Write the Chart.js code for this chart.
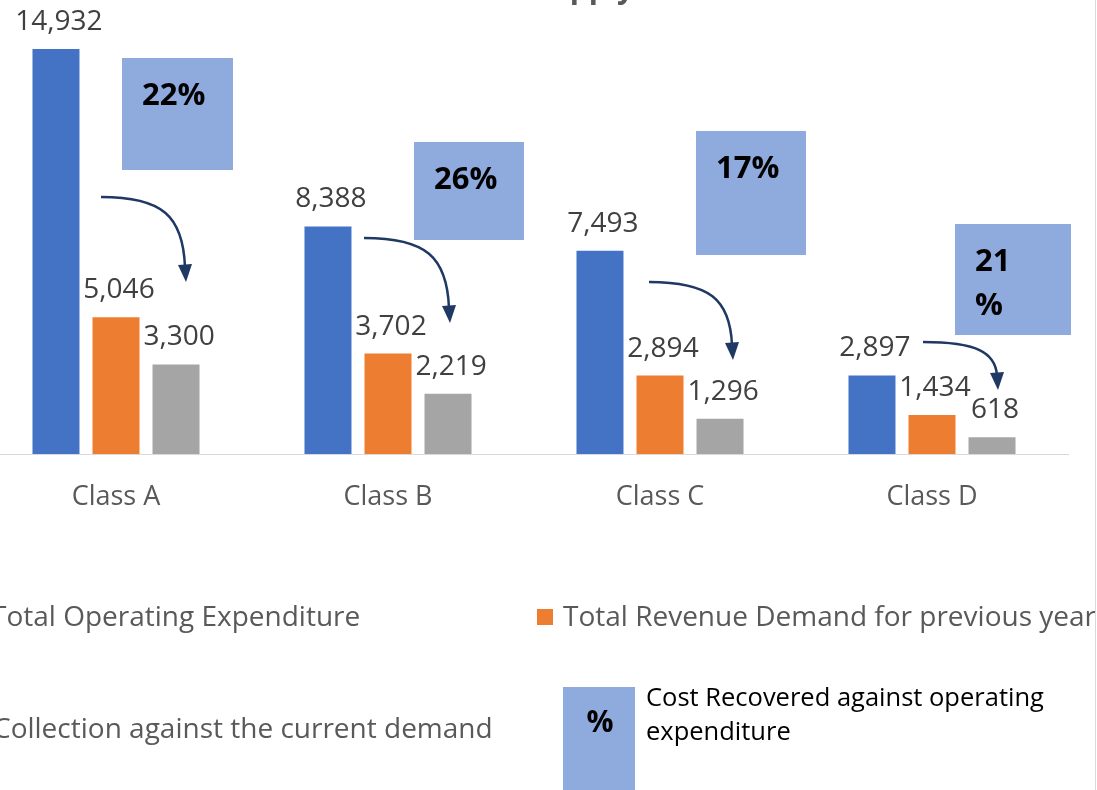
<!DOCTYPE html>
<html>
<head>
<meta charset="utf-8">
<script src="https://cdn.jsdelivr.net/npm/chart.js@4.4.1/dist/chart.umd.min.js"></script>
<style>
  html, body { margin: 0; padding: 0; background: #fff; overflow: hidden; width: 1097px; height: 790px; }
  #wrap { position: absolute; left: -40px; top: -50px; width: 1160px; height: 850px; }
</style>
</head>
<body>
<div id="wrap"><canvas id="costChart" width="1160" height="850"></canvas></div>
<script>
// data
const categories = ['Class A', 'Class B', 'Class C', 'Class D'];
const seriesNames = ['Total Operating Expenditure', 'Total Revenue Demand for previous year', 'Collection against the current demand'];
const opexValues = [14932, 8388, 7493, 2897];
const demandValues = [5046, 3702, 2894, 1434];
const collectionValues = [3300, 2219, 1296, 618];
const recoveredPct = ['22%', '26%', '17%', '21%'];
const titleText = 'Water Supply';
const pctLegendText = ['Cost Recovered against operating', 'expenditure'];

const colors = ['#4472C4', '#ED7D31', '#A5A5A5'];
const OX = 40, OY = 50; // canvas offset vs. the visible page

// callout boxes: [dx from category centre, top, width, height] (page px)
const boxSpec = [[6, 58, 111, 112], [26, 142, 110, 98], [36, 131, 110, 124], [23, 224, 116, 111]];
const boxWrap = [false, false, false, true];
// curved arrows: [start dx, start y, tip dx, tip y]
const arrowSpec = [[-15, 197, 70, 282], [-24, 238, 62, 323], [-11, 282, 73, 360], [-9, 342, 66, 390]];

Chart.defaults.font.family = "'Open Sans', sans-serif";

// value labels above each bar
const valueLabels = {
  id: 'valueLabels',
  afterDatasetsDraw(chart) {
    const ctx = chart.ctx;
    ctx.save();
    ctx.font = "28px 'Open Sans'";
    ctx.fillStyle = '#404040';
    ctx.textAlign = 'center';
    ctx.textBaseline = 'alphabetic';
    chart.data.datasets.forEach((ds, i) => {
      chart.getDatasetMeta(i).data.forEach((bar, j) => {
        ctx.fillText(ds.data[j].toLocaleString('en-US'), bar.x + 3, bar.y - 19);
      });
    });
    ctx.restore();
  }
};

// % boxes, arrows, title, legend
const extras = {
  id: 'extras',
  afterDraw(chart) {
    const ctx = chart.ctx;
    const xs = chart.scales.x;
    ctx.save();
    ctx.translate(OX, OY); // work in page coordinates

    // title (only its descenders are inside the picture)
    ctx.font = "bold 30px 'Open Sans'";
    ctx.fillStyle = '#595959';
    ctx.textAlign = 'right';
    ctx.fillText(titleText, 634, -2);

    categories.forEach((c, i) => {
      const cx = xs.getPixelForValue(i) - OX;
      const b = boxSpec[i];
      ctx.fillStyle = '#8FAADC';
      ctx.fillRect(cx + b[0], b[1], b[2], b[3]);
      ctx.fillStyle = '#000';
      ctx.font = "bold 31px 'Open Sans'";
      ctx.textAlign = 'left';
      if (boxWrap[i]) {
        ctx.fillText(recoveredPct[i].slice(0, -1), cx + b[0] + 20, b[1] + 47);
        ctx.fillText('%', cx + b[0] + 20, b[1] + 91);
      } else {
        ctx.fillText(recoveredPct[i], cx + b[0] + 20, b[1] + 47);
      }

      // arrow
      const a = arrowSpec[i];
      const sx = cx + a[0], sy = a[1], tx = cx + a[2], ty = a[3];
      const dx = tx - sx, dy = ty - sy;
      const head = 17;
      ctx.strokeStyle = '#1F3864';
      ctx.fillStyle = '#1F3864';
      ctx.lineWidth = 2.5;
      ctx.beginPath();
      ctx.moveTo(sx, sy);
      ctx.bezierCurveTo(sx + 0.72 * dx, sy, tx - 3, sy + 0.22 * dy, tx - 1, ty - head + 2);
      ctx.stroke();
      ctx.beginPath();
      ctx.moveTo(tx, ty);
      ctx.lineTo(tx - 8, ty - head);
      ctx.lineTo(tx + 6, ty - head - 1);
      ctx.closePath();
      ctx.fill();
    });

    // legend
    ctx.font = "28px 'Open Sans'";
    ctx.textAlign = 'left';
    const leg = [[-9, 626], [563, 626], [-7, 738]];
    chart.data.datasets.forEach((ds, i) => {
      const p = leg[i];
      ctx.fillStyle = ds.backgroundColor;
      ctx.fillRect(p[0] - 26, p[1] - 17, 16, 16);
      ctx.fillStyle = '#595959';
      ctx.fillText(ds.label, p[0], p[1]);
    });

    // % legend entry
    ctx.fillStyle = '#8FAADC';
    ctx.fillRect(563, 687, 72, 120);
    ctx.fillStyle = '#000';
    ctx.font = "bold 30px 'Open Sans'";
    ctx.textAlign = 'center';
    ctx.fillText('%', 600, 732);
    ctx.font = "25.5px 'Open Sans'";
    ctx.textAlign = 'left';
    ctx.fillText(pctLegendText[0], 646, 706);
    ctx.fillText(pctLegendText[1], 646, 740);

    // outer border on the right
    ctx.strokeStyle = '#D9D9D9';
    ctx.lineWidth = 1;
    ctx.beginPath();
    ctx.moveTo(1095.5, -OY);
    ctx.lineTo(1095.5, 800);
    ctx.stroke();
    ctx.restore();
  }
};

const ctx1 = document.getElementById('costChart').getContext('2d');
const costChart = new Chart(ctx1, {
  type: 'bar',
  data: {
    labels: categories,
    datasets: [
      { label: seriesNames[0], data: opexValues, backgroundColor: colors[0] },
      { label: seriesNames[1], data: demandValues, backgroundColor: colors[1] },
      { label: seriesNames[2], data: collectionValues, backgroundColor: colors[2] }
    ]
  },
  options: {
    responsive: false,
    animation: false,
    devicePixelRatio: 1,
    categoryPercentage: 0.662,
    barPercentage: 0.783,
    layout: { padding: { left: 20, right: 52, top: 70, bottom: 286 } },
    scales: {
      x: {
        grid: { display: false, drawTicks: false },
        border: { display: true, color: '#D9D9D9', width: 1 },
        ticks: { color: '#595959', font: { size: 27 }, padding: 27 },
        afterFit: s => { s.height = 60; }
      },
      y: { display: false, min: 0, max: 16000 }
    },
    plugins: {
      legend: { display: false },
      tooltip: { enabled: false }
    }
  },
  plugins: [valueLabels, extras]
});
</script>
</body>
</html>
